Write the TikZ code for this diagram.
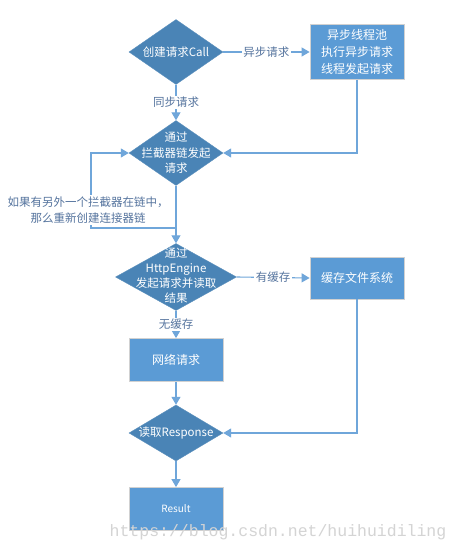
\documentclass[tikz,border=0pt]{standalone}
\usepackage{fontspec}
\setmainfont{Noto Sans CJK SC}
\newfontfamily\wmfont{Liberation Mono}
\usetikzlibrary{shapes.geometric,arrows.meta}
\definecolor{diacol}{HTML}{4A84B6}
\definecolor{boxcol}{HTML}{5B9BD5}
\definecolor{linecol}{HTML}{6FA6DA}
\definecolor{labcol}{HTML}{55749E}
\begin{document}
\begin{tikzpicture}[x=1pt,y=-1pt,
  dia/.style={diamond,fill=diacol,inner sep=0pt,draw=diacol!90!white},
  dtext/.style={text=white,align=center,font=\fontsize{11.5}{15.5}\selectfont},
  box/.style={rectangle,fill=boxcol,draw=black!18,line width=0.8pt,text=white,align=center,
    inner sep=0pt,minimum width=94pt,font=\fontsize{12}{17}\selectfont},
  arr/.style={draw=linecol,line width=1.1pt,-{Triangle[length=8pt,width=9pt]}},
  lab/.style={fill=white,text=labcol,inner sep=1.5pt,font=\fontsize{11.5}{15}\selectfont,align=center}]
\useasboundingbox (0,0) rectangle (460,553);
\fill[white] (0,0) rectangle (460,553);
% nodes
\node[dia,minimum width=94pt,minimum height=65pt] (d1) at (176,52) {};
\node[dtext] (t1) at (d1) {创建请求Call};
\node[box,minimum height=55pt] (b1) at (357,52) {异步线程池\\执行异步请求\\线程发起请求};
\node[dia,minimum width=94pt,minimum height=65pt] (d2) at (176,153) {};
\node[dtext] (t2) at (d2) {通过\\拦截器链发起\\请求};
\node[dia,minimum width=121pt,minimum height=67pt] (d3) at (176,277) {};
\node[dtext,font=\fontsize{11.5}{15}\selectfont] (t3) at (176,276) {通过\\HttpEngine\\发起请求并读取\\结果};
\node[box,minimum height=42pt] (b2) at (357,278) {缓存文件系统};
\node[box,minimum height=43pt] (b3) at (176,360) {网络请求};
\node[dia,minimum width=94pt,minimum height=56pt] (d4) at (176,433) {};
\node[dtext] (t4) at (d4) {读取Response};
\node[box,minimum height=43pt,font=\fontsize{10}{12}\selectfont] (b5) at (176,509) {Result};
% connectors
\draw[arr] (d1.east) -- node[lab] (l1) {异步请求} (b1.west);
\draw[arr] (d1.south) -- node[lab] (l2) {同步请求} (d2.north);
\draw[arr] (b1.south) |- (d2.east);
\coordinate (j) at (176,228);
\coordinate (lp) at (91,228);
\draw[arr] (d2.south) -- (d3.north);
\draw[arr] (j) -- (lp) |- (d2.west);
\node[lab,font=\fontsize{11.5}{15.5}\selectfont] (l3) at (88,210) {如果有另外一个拦截器在链中，\\那么重新创建连接器链};
\draw[arr] (d3.east) -- node[lab] (l4) {有缓存} (b2.west);
\draw[arr] (d3.south) -- node[lab] (l5) {无缓存} (b3.north);
\draw[arr] (b3.south) -- (d4.north);
\draw[arr] (b2.south) |- (d4.east);
\draw[arr] (d4.south) -- (b5.north);
% watermark
\node[text=black!17,font=\wmfont\fontsize{16.5}{18}\selectfont,inner sep=0pt] (wm) at (278,532) {https://blog.csdn.net/huihuidiling};
\end{tikzpicture}
\end{document}
